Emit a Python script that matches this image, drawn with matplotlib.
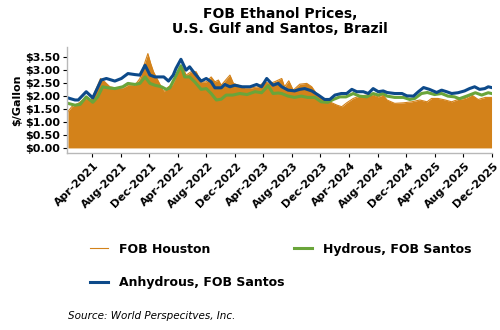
import pandas as pd
import matplotlib
matplotlib.use("Agg")
import matplotlib.pyplot as plt
import matplotlib.dates as mdates
import matplotlib.transforms as mtransforms
from matplotlib.ticker import FuncFormatter, MultipleLocator

plt.rcParams['font.family'] = ['DejaVu Sans']
plt.rcParams['font.weight'] = 'bold'

# ---- data ($/gallon) ----
houston_dates = [
    "2020-12-19", "2021-01-04", "2021-02-01", "2021-03-01", "2021-03-28", "2021-04-19",
    "2021-05-07", "2021-05-25", "2021-06-16", "2021-07-07", "2021-08-10", "2021-09-01",
    "2021-10-01", "2021-10-22", "2021-11-13", "2021-11-25", "2021-12-07", "2021-12-19",
    "2022-01-10", "2022-02-01", "2022-02-21", "2022-03-08", "2022-03-19", "2022-04-10",
    "2022-04-25", "2022-05-07", "2022-05-28", "2022-06-19", "2022-07-10", "2022-08-01",
    "2022-08-22", "2022-09-07", "2022-09-22", "2022-10-04", "2022-10-19", "2022-11-10",
    "2022-11-25", "2022-12-16", "2023-01-13", "2023-02-12", "2023-03-10", "2023-04-07",
    "2023-04-28", "2023-05-19", "2023-06-19", "2023-07-01", "2023-07-19", "2023-08-07",
    "2023-09-04", "2023-10-04", "2023-10-25", "2023-11-22", "2023-12-19", "2024-01-19",
    "2024-02-10", "2024-03-01", "2024-03-22", "2024-04-19", "2024-05-16", "2024-06-16",
    "2024-07-13", "2024-08-04", "2024-08-25", "2024-09-10", "2024-10-13", "2024-11-19",
    "2024-12-25", "2025-01-28", "2025-02-28", "2025-03-19", "2025-04-16", "2025-05-16",
    "2025-06-13", "2025-07-10", "2025-08-10", "2025-09-07", "2025-10-04", "2025-11-04",
    "2025-11-30",
]
houston_vals = [
    1.40, 1.59, 1.72, 1.91, 1.85, 2.29,
    2.68, 2.55, 2.36, 2.32, 2.32, 2.42,
    2.42, 2.68, 3.32, 3.64, 3.26, 2.94,
    2.55, 2.17, 2.36, 2.42, 2.62, 3.13,
    3.07, 2.81, 2.94, 2.94, 2.55, 2.55,
    2.74, 2.55, 2.62, 2.42, 2.58, 2.81,
    2.49, 2.42, 2.32, 2.32, 2.36, 2.55,
    2.49, 2.55, 2.68, 2.36, 2.59, 2.23,
    2.46, 2.49, 2.36, 2.00, 1.85, 1.74,
    1.65, 1.59, 1.74, 1.91, 2.00, 2.04,
    2.04, 1.97, 2.04, 1.85, 1.72, 1.74,
    1.78, 1.85, 1.78, 1.91, 1.91, 1.85,
    1.78, 1.87, 1.91, 2.04, 1.87, 1.95,
    1.95,
]

anhydrous_dates = [
    "2020-12-19", "2021-01-18", "2021-02-01", "2021-03-07", "2021-04-04", "2021-05-10",
    "2021-06-01", "2021-07-07", "2021-08-04", "2021-09-01", "2021-10-01", "2021-10-22",
    "2021-11-13", "2021-12-04", "2021-12-25", "2022-02-01", "2022-02-21", "2022-03-13",
    "2022-03-25", "2022-04-15", "2022-05-07", "2022-05-22", "2022-06-13", "2022-07-10",
    "2022-08-01", "2022-08-22", "2022-09-07", "2022-10-04", "2022-10-19", "2022-11-10",
    "2022-12-01", "2023-01-01", "2023-02-04", "2023-03-04", "2023-03-25", "2023-04-16",
    "2023-05-13", "2023-06-04", "2023-06-19", "2023-07-16", "2023-08-13", "2023-09-04",
    "2023-09-25", "2023-10-25", "2023-11-22", "2023-12-19", "2024-01-10", "2024-02-01",
    "2024-02-28", "2024-03-22", "2024-04-13", "2024-05-04", "2024-06-01", "2024-06-22",
    "2024-07-13", "2024-08-04", "2024-08-25", "2024-09-10", "2024-10-13", "2024-11-13",
    "2024-12-04", "2025-01-01", "2025-01-22", "2025-02-13", "2025-03-10", "2025-04-10",
    "2025-05-01", "2025-05-22", "2025-06-13", "2025-07-10", "2025-08-07", "2025-08-28",
    "2025-09-19", "2025-10-10", "2025-11-01", "2025-11-16", "2025-11-30",
]
anhydrous_vals = [
    1.93, 1.85, 1.85, 2.17, 1.93, 2.62,
    2.68, 2.58, 2.68, 2.87, 2.83, 2.81,
    3.19, 2.81, 2.74, 2.74, 2.58, 2.81,
    3.07, 3.42, 3.00, 3.13, 2.87, 2.58,
    2.68, 2.55, 2.32, 2.32, 2.45, 2.36,
    2.42, 2.36, 2.36, 2.45, 2.36, 2.68,
    2.42, 2.49, 2.36, 2.23, 2.20, 2.26,
    2.29, 2.20, 2.04, 1.87, 1.87, 2.04,
    2.10, 2.10, 2.26, 2.17, 2.17, 2.10,
    2.29, 2.17, 2.20, 2.14, 2.10, 2.10,
    2.01, 2.00, 2.17, 2.33, 2.26, 2.14,
    2.23, 2.17, 2.10, 2.13, 2.20, 2.29,
    2.36, 2.26, 2.29, 2.36, 2.33,
]

hydrous_dates = [
    "2020-12-19", "2021-01-18", "2021-02-09", "2021-03-07", "2021-04-04", "2021-04-25",
    "2021-05-16", "2021-06-07", "2021-07-07", "2021-08-10", "2021-09-01", "2021-10-01",
    "2021-10-22", "2021-11-13", "2021-12-04", "2021-12-25", "2022-01-22", "2022-02-12",
    "2022-02-27", "2022-03-13", "2022-03-19", "2022-04-15", "2022-05-01", "2022-05-22",
    "2022-06-13", "2022-07-10", "2022-08-01", "2022-08-22", "2022-09-13", "2022-10-04",
    "2022-10-25", "2022-11-22", "2022-12-22", "2023-01-22", "2023-02-25", "2023-03-25",
    "2023-04-22", "2023-05-13", "2023-06-04", "2023-06-19", "2023-07-16", "2023-08-13",
    "2023-09-10", "2023-10-07", "2023-11-07", "2023-12-04", "2024-01-01", "2024-01-25",
    "2024-02-22", "2024-03-19", "2024-04-19", "2024-05-16", "2024-06-16", "2024-07-13",
    "2024-08-04", "2024-08-25", "2024-09-10", "2024-10-13", "2024-11-19", "2024-12-16",
    "2025-01-07", "2025-02-04", "2025-03-01", "2025-04-01", "2025-05-01", "2025-05-28",
    "2025-06-25", "2025-07-16", "2025-08-16", "2025-09-22", "2025-10-19", "2025-11-16",
    "2025-11-30",
]
hydrous_vals = [
    1.72, 1.65, 1.68, 1.97, 1.76, 1.97,
    2.36, 2.32, 2.29, 2.36, 2.49, 2.45,
    2.49, 2.74, 2.49, 2.42, 2.36, 2.26,
    2.32, 2.58, 2.68, 3.17, 2.74, 2.74,
    2.55, 2.26, 2.29, 2.10, 1.85, 1.88,
    2.04, 2.04, 2.10, 2.06, 2.17, 2.13,
    2.40, 2.10, 2.12, 2.10, 2.00, 1.95,
    2.00, 1.95, 1.95, 1.78, 1.76, 1.87,
    1.97, 1.97, 2.10, 2.00, 1.97, 2.10,
    2.04, 2.10, 2.00, 1.95, 1.95, 1.87,
    1.91, 2.10, 2.14, 2.06, 2.10, 2.00,
    1.97, 1.90, 2.00, 2.13, 2.04, 2.13,
    2.10,
]

ORANGE = '#D3821A'
NAVY = '#0D4A8A'
GREEN = '#6AA53A'

h_d = pd.to_datetime(houston_dates)
a_d = pd.to_datetime(anhydrous_dates)
y_d = pd.to_datetime(hydrous_dates)

fig = plt.figure(figsize=(5, 3.3), dpi=100)
ax = fig.add_axes([0.134, 0.536, 0.850, 0.322])

ax.fill_between(h_d, 0, houston_vals, color=ORANGE, lw=0)
l_h, = ax.plot(h_d, houston_vals, color=ORANGE, lw=0.8)
l_y, = ax.plot(y_d, hydrous_vals, color=GREEN, lw=2.2)
l_a, = ax.plot(a_d, anhydrous_vals, color=NAVY, lw=2.2)

ax.set_xlim(pd.Timestamp("2020-12-15"), pd.Timestamp("2025-12-02"))
ax.set_ylim(-0.2, 3.9)
ax.yaxis.set_major_locator(MultipleLocator(0.5))
ax.yaxis.set_major_formatter(FuncFormatter(lambda v, p: f"${v:.2f}"))
ax.set_yticks([0, 0.5, 1.0, 1.5, 2.0, 2.5, 3.0, 3.5])

ax.xaxis.set_major_locator(mdates.MonthLocator(bymonth=[4, 8, 12]))
ax.xaxis.set_major_formatter(mdates.DateFormatter('%b-%Y'))

for s in ['top', 'right']:
    ax.spines[s].set_visible(False)
for s in ['left', 'bottom']:
    ax.spines[s].set_color('#B8B8B8')
    ax.spines[s].set_linewidth(1.0)

ax.tick_params(axis='y', length=3, width=0.8, pad=2, labelsize=8, colors='black')
ax.tick_params(axis='x', length=3, width=0.8, pad=2, labelsize=8, colors='black')

offset = mtransforms.ScaledTranslation(0.05, -0.04, fig.dpi_scale_trans)
for lbl in ax.get_xticklabels():
    lbl.set_rotation(45)
    lbl.set_ha('right')
    lbl.set_va('center')
    lbl.set_rotation_mode('anchor')
    lbl.set_fontweight('bold')
    lbl.set_transform(lbl.get_transform() + offset)
for lbl in ax.get_yticklabels():
    lbl.set_fontweight('bold')

ax.set_ylabel('$/Gallon', fontsize=8, fontweight='bold')
ax.yaxis.set_label_coords(-0.105, 0.5)

fig.text(0.56, 0.978, 'FOB Ethanol Prices,\nU.S. Gulf and Santos, Brazil',
         ha='center', va='top', fontsize=10, fontweight='bold', linespacing=1.05)

fig.legend(handles=[l_h, l_a, l_y],
           labels=['FOB Houston', 'Anhydrous, FOB Santos', 'Hydrous, FOB Santos'],
           ncol=2, loc='upper left', bbox_to_anchor=(0.18, 0.265),
           frameon=False, prop={'size': 9, 'weight': 'bold'},
           handlelength=1.45, handletextpad=0.9, columnspacing=0.7,
           labelspacing=1.65, borderpad=0, borderaxespad=0)

fig.text(0.136, 1 - 316 / 330, 'Source: World Perspecitves, Inc.',
         ha='left', va='center', fontsize=7.5, style='italic', fontweight='normal')

fig.savefig('out.png', dpi=100)
